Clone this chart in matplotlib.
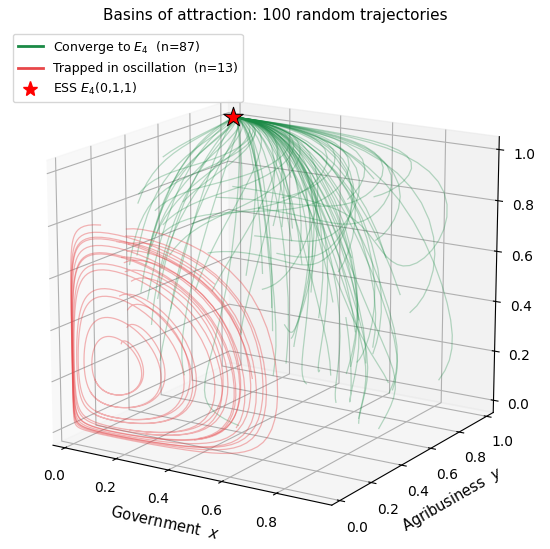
import numpy as np
import matplotlib
matplotlib.use("Agg")
import matplotlib.pyplot as plt
from matplotlib.lines import Line2D

# ==== DATA ====
# start points of the trajectories (rough)
green_x0 = [0.82, 0.15, 0.47, 0.04, 0.33, 0.64, 0.08, 0.72, 0.56, 0.27,
            0.88, 0.41, 0.19, 0.69, 0.06, 0.52, 0.11, 0.78, 0.36, 0.60,
            0.24, 0.85, 0.44, 0.07, 0.67, 0.10, 0.30, 0.58, 0.13, 0.75,
            0.49, 0.21, 0.03, 0.38, 0.62, 0.05, 0.80, 0.54, 0.17, 0.71,
            0.12, 0.34, 0.46, 0.26, 0.83, 0.10, 0.65, 0.57, 0.40, 0.94,
            0.22, 0.74, 0.31, 0.08, 0.50, 0.14, 0.68, 0.43, 0.79, 0.09,
            0.61, 0.28, 0.05, 0.53, 0.18, 0.76, 0.37, 0.92, 0.48, 0.25,
            0.70, 0.12, 0.84, 0.59, 0.35, 0.66, 0.20, 0.81, 0.45, 0.06,
            0.73, 0.55, 0.29, 0.87, 0.39, 0.63, 0.16]
green_y0 = [0.64, 0.31, 0.88, 0.34, 0.72, 0.27, 0.93, 0.56, 0.39, 0.81,
            0.24, 0.67, 0.26, 0.95, 0.30, 0.78, 0.42, 0.60, 0.86, 0.29,
            0.30, 0.47, 0.33, 0.24, 0.91, 0.36, 0.26, 0.84, 0.28, 0.41,
            0.97, 0.35, 0.40, 0.23, 0.79, 0.48, 0.70, 0.30, 0.33, 0.55,
            0.32, 0.83, 0.28, 0.66, 0.52, 0.37, 0.92, 0.61, 0.25, 0.76,
            0.25, 0.32, 0.87, 0.29, 0.68, 0.96, 0.34, 0.73, 0.49, 0.27,
            0.38, 0.31, 0.38, 0.27, 0.90, 0.46, 0.71, 0.59, 0.22, 0.85,
            0.51, 0.29, 0.40, 0.94, 0.30, 0.77, 0.23, 0.44, 0.82, 0.36,
            0.69, 0.26, 0.91, 0.48, 0.62, 0.33, 0.26]
green_z0 = [0.12, 0.58, 0.35, 0.81, 0.07, 0.46, 0.69, 0.23, 0.90, 0.31,
            0.54, 0.15, 0.77, 0.40, 0.62, 0.09, 0.86, 0.28, 0.49, 0.72,
            0.18, 0.93, 0.37, 0.60, 0.05, 0.44, 0.79, 0.26, 0.67, 0.14,
            0.51, 0.84, 0.55, 0.70, 0.33, 0.96, 0.11, 0.57, 0.42, 0.88,
            0.70, 0.64, 0.03, 0.48, 0.75, 0.19, 0.55, 0.38, 0.91, 0.16,
            0.66, 0.29, 0.83, 0.48, 0.45, 0.73, 0.22, 0.59, 0.06, 0.87,
            0.34, 0.52, 0.60, 0.78, 0.41, 0.24, 0.68, 0.47, 0.97, 0.20,
            0.61, 0.36, 0.08, 0.85, 0.53, 0.17, 0.74, 0.30, 0.63, 0.43,
            0.27, 0.89, 0.56, 0.04, 0.71, 0.39, 0.82]

red_x0 = [0.16, 0.17, 0.16, 0.15, 0.17, 0.16, 0.15, 0.16, 0.17, 0.16, 0.15, 0.17, 0.16]
red_y0 = [0.05, 0.07, 0.09, 0.06, 0.10, 0.08, 0.09, 0.06, 0.08, 0.10, 0.05, 0.07, 0.09]
red_z0 = [0.36, 0.42, 0.48, 0.54, 0.59, 0.63, 0.66, 0.69, 0.71, 0.73, 0.75, 0.77, 0.79]

ess = (0, 1, 1)

# replicator model used to trace the paths
A, B, C = 1.0, 0.28, 1.3
K, TH = 1.2, 0.2
R, M, N, P = 0.75, 0.19, 1.2, 1.2
T_END, DT, EVERY = 70.0, 0.02, 25


def rhs(s):
    x, y, z = s
    dx = x * (1 - x) * (A * z - B - C * y * z)
    dy = K * y * (1 - y) * (y - TH)
    dz = z * (1 - z) * (R * (M - N * x) + P * y)
    return np.array([dx, dy, dz])


def trace(p0):
    s = np.array(p0, dtype=float)
    out = [s.copy()]
    n = int(T_END / DT)
    for i in range(n):
        k1 = rhs(s)
        k2 = rhs(s + 0.5 * DT * k1)
        k3 = rhs(s + 0.5 * DT * k2)
        k4 = rhs(s + DT * k3)
        s = s + DT / 6 * (k1 + 2 * k2 + 2 * k3 + k4)
        if (i + 1) % EVERY == 0:
            out.append(s.copy())
    return np.array(out)


# ==== PLOT ====
fig = plt.figure(figsize=(5.5, 5.49), dpi=100)
ax = fig.add_axes([-0.027, -0.022, 1.035, 0.96], projection="3d")
ax.set_box_aspect((1, 1, 0.9))

for p0 in zip(green_x0, green_y0, green_z0):
    tr = trace(p0)
    ax.plot(tr[:, 0], tr[:, 1], tr[:, 2], color="#1a8a45", alpha=0.3, lw=0.9)

for p0 in zip(red_x0, red_y0, red_z0):
    tr = trace(p0)
    ax.plot(tr[:, 0], tr[:, 1], tr[:, 2], color="#e8474a", alpha=0.4, lw=0.9)

ax.scatter([ess[0]], [ess[1]], [ess[2]], marker="*", s=220, color="red",
           edgecolors="black", linewidths=0.7, depthshade=False, zorder=10)

ax.set_xlim(-0.0475, 0.9975)
ax.set_ylim(-0.05, 1.05)
ax.set_zlim(-0.05, 1.05)
ax.view_init(elev=16, azim=-58)
ax.set_xlabel("Government  $x$", fontsize=10.5)
ax.set_ylabel("Agribusiness  $y$", fontsize=10.5)
ax.tick_params(labelsize=10)
fig.suptitle("Basins of attraction: 100 random trajectories", fontsize=11, y=0.985)

handles = [
    Line2D([], [], color="#1a8a45", lw=2),
    Line2D([], [], color="#e8474a", lw=2),
    Line2D([], [], color="red", marker="*", ls="", markersize=11),
]
labels = [f"Converge to $E_4$  (n={len(green_x0)})",
          f"Trapped in oscillation  (n={len(red_x0)})",
          "ESS $E_4$(0,1,1)"]
fig.legend(handles, labels, loc="upper left", fontsize=9,
           bbox_to_anchor=(0.012, 0.95))

fig.savefig("out.png", dpi=100)
